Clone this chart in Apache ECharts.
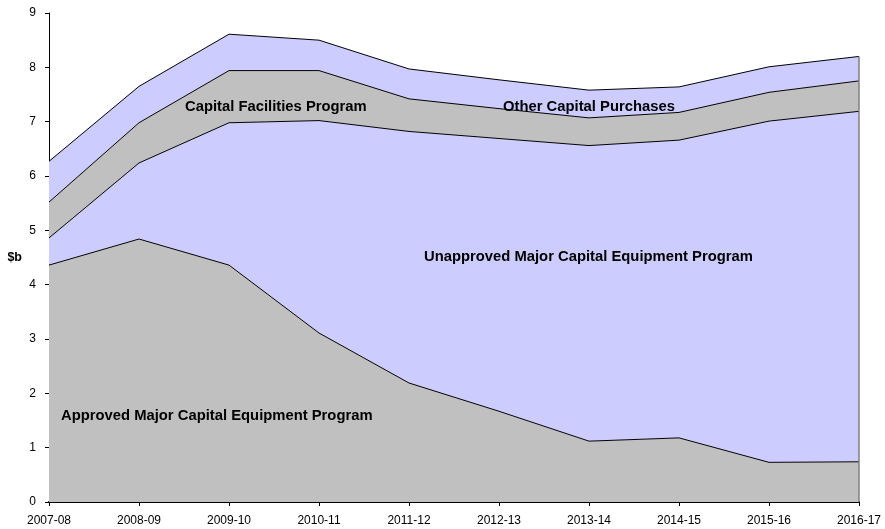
<!DOCTYPE html>
<html>
<head>
<meta charset="utf-8">
<script src="https://cdn.jsdelivr.net/npm/echarts@6/dist/echarts.min.js"></script>
<style>
  html, body { margin: 0; padding: 0; background: #fff; }
  #chart { width: 885px; height: 529px; }
</style>
</head>
<body>
<div id="chart"></div>
<script>
var years = ['2007-08', '2008-09', '2009-10', '2010-11', '2011-12', '2012-13', '2013-14', '2014-15', '2015-16', '2016-17'];
var approved = [4.36, 4.84, 4.36, 3.11, 2.19, 1.67, 1.12, 1.18, 0.73, 0.74];
var unapproved = [0.50, 1.40, 2.62, 3.91, 4.63, 5.02, 5.44, 5.48, 6.28, 6.45];
var facilities = [0.66, 0.74, 0.96, 0.92, 0.60, 0.55, 0.51, 0.51, 0.53, 0.56];
var otherPurchases = [0.75, 0.67, 0.67, 0.56, 0.55, 0.53, 0.51, 0.47, 0.47, 0.45];

var grey = '#c0c0c0';
var lilac = '#ccccff';

function areaSeries(name, data, color) {
  return {
    name: name,
    type: 'line',
    stack: 'total',
    data: data,
    symbol: 'none',
    lineStyle: { color: '#000', width: 1 },
    areaStyle: { color: color, opacity: 1 },
    emphasis: { disabled: true }
  };
}

// stacked total at the last year, for the grey edge on the right
var last = years.length - 1;
var lastTotal = approved[last] + unapproved[last] + facilities[last] + otherPurchases[last];

var chart = echarts.init(document.getElementById('chart'));

function areaLabel(text, x, y) {
  return {
    type: 'text', z: 100, x: x, y: y,
    style: {
      text: text,
      fontFamily: 'Liberation Sans, Arial, sans-serif',
      fontSize: 14.8,
      fontWeight: 'bold',
      fill: '#000',
      textVerticalAlign: 'middle'
    }
  };
}

var series = [
  areaSeries('Approved Major Capital Equipment Program', approved, grey),
  areaSeries('Unapproved Major Capital Equipment Program', unapproved, lilac),
  areaSeries('Capital Facilities Program', facilities, grey),
  areaSeries('Other Capital Purchases', otherPurchases, lilac)
];
series[3].markLine = {
  silent: true,
  symbol: 'none',
  label: { show: false },
  lineStyle: { color: '#808080', width: 1.5, type: 'solid' },
  data: [[{ xAxis: years[last], yAxis: 0 }, { xAxis: years[last], yAxis: lastTotal }]]
};

var option = {
  animation: false,
  grid: { left: 49, right: 26, top: 13, bottom: 27 },
  textStyle: { fontFamily: 'Liberation Sans, Arial, sans-serif' },
  xAxis: {
    type: 'category',
    data: years,
    boundaryGap: false,
    axisLine: { lineStyle: { color: '#000', width: 2 } },
    axisTick: { alignWithLabel: true, length: 4, lineStyle: { color: '#000' } },
    axisLabel: { color: '#000', fontSize: 12, margin: 13 }
  },
  yAxis: {
    type: 'value',
    min: 0,
    max: 9,
    interval: 1,
    name: '$b',
    nameLocation: 'middle',
    nameRotate: 0,
    nameGap: 27,
    nameTextStyle: { color: '#000', fontSize: 12.5, fontWeight: 'bold' },
    splitLine: { show: false },
    axisLine: { show: true, lineStyle: { color: '#000', width: 1 } },
    axisTick: { show: true, length: 4, lineStyle: { color: '#000' } },
    axisLabel: { color: '#000', fontSize: 12, margin: 13 }
  },
  series: series,
  graphic: [
    areaLabel('Capital Facilities Program', 185, 107),
    areaLabel('Other Capital Purchases', 503, 107),
    areaLabel('Unapproved Major Capital Equipment Program', 424, 257),
    areaLabel('Approved Major Capital Equipment Program', 61, 416)
  ]
};

chart.setOption(option);
</script>
</body>
</html>
